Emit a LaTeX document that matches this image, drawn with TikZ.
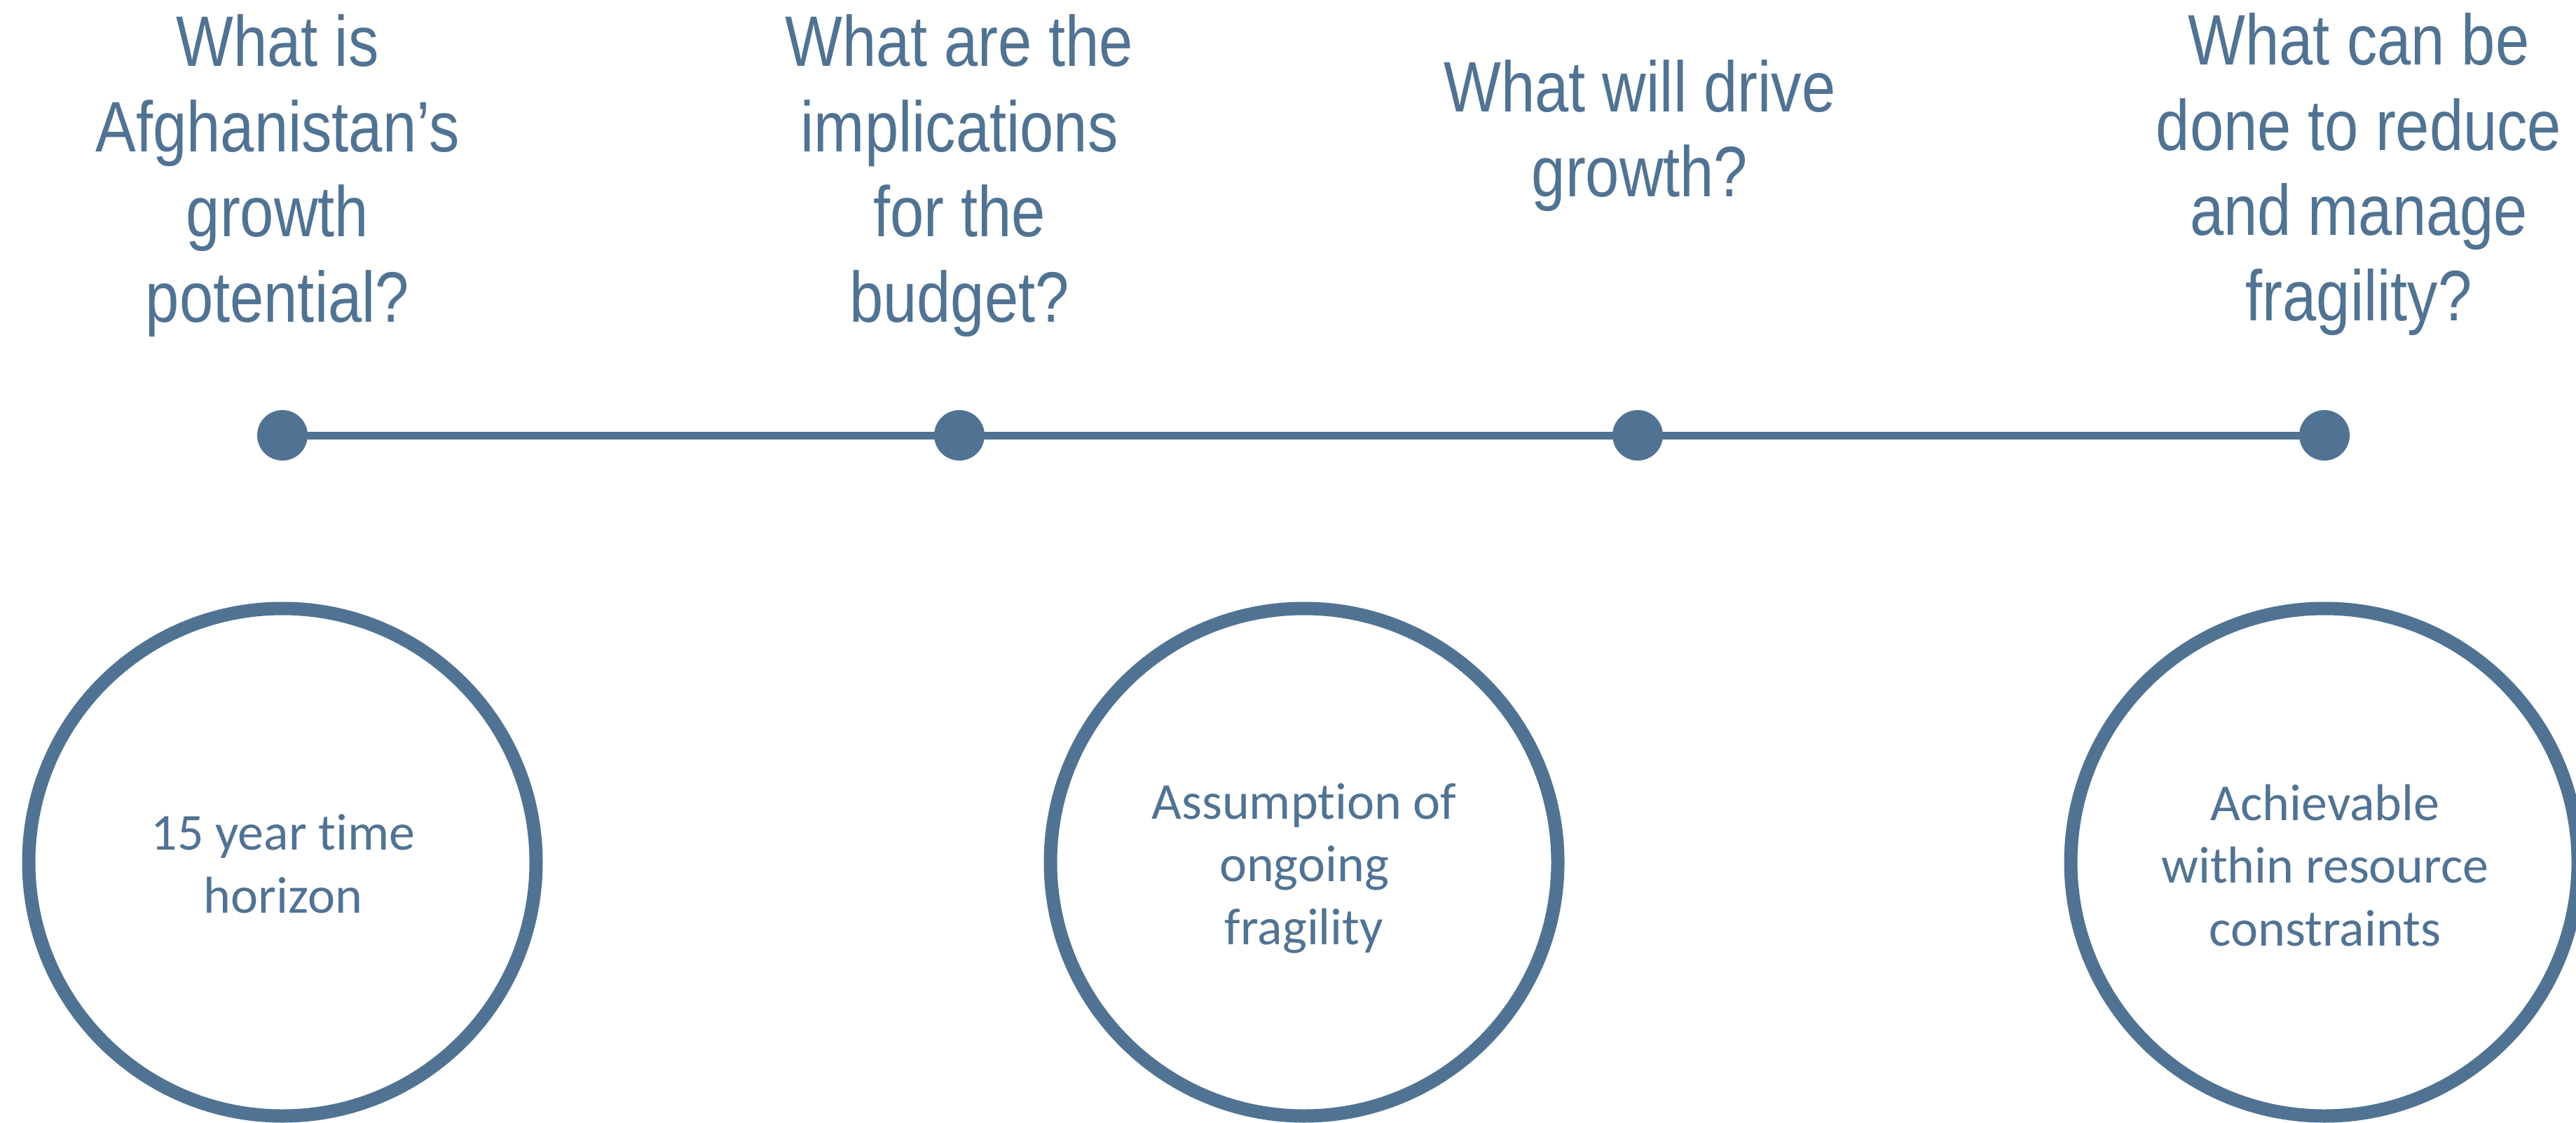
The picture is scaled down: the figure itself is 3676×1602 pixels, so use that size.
\documentclass[tikz,border=0pt]{standalone}
\usepackage{fontspec}
\newfontfamily\qfont[FakeStretch=0.85]{Liberation Sans}
\newfontfamily\cfont[Ligatures={NoCommon}]{Carlito}
\definecolor{sb}{RGB}{81,115,147}
\begin{document}
\begin{tikzpicture}[x=1pt,y=-1pt,
  question/.style={anchor=base,align=center,inner sep=0pt,text=sb,
    font=\qfont\fontsize{102}{121.5}\selectfont},
  dotnode/.style={circle,fill=sb,inner sep=0pt,minimum size=72pt},
  ring/.style={circle,draw=sb,line width=19pt,inner sep=0pt,minimum size=724pt},
  ringtext/.style={anchor=base,align=center,inner sep=0pt,text=sb,
    font=\cfont\fontsize{74}{89.5}\selectfont},
  timeline/.style={draw=sb,line width=11pt}]
\useasboundingbox (0,0) rectangle (3676,1602);
\clip (0,0) rectangle (3676,1602);
% questions (anchored at the baseline of their last line)
\node[question] (q1) at (396,459) {What is\\Afghanistan’s\\growth\\potential?};
\node[question] (q2) at (1369,459) {What are the\\implications\\for the\\budget?};
\node[question] (q3) at (2340,281) {What will drive\\growth?};
\node[question] (q4) at (3366,457) {What can be\\done to reduce\\and manage\\fragility?};
% timeline
\node[dotnode] (d1) at (403,621) {};
\node[dotnode] (d2) at (1369,621) {};
\node[dotnode] (d3) at (2337,621) {};
\node[dotnode] (d4) at (3317,621) {};
\draw[timeline] (d1.center) -- (d2.center) -- (d3.center) -- (d4.center);
% circles
\node[ring] (c1) at (403,1230) {};
\node[ring] (c2) at (1861,1230) {};
\node[ring] (c3) at (3317,1230) {};
\node[ringtext] (t1) at (404,1302) {15 year time\\horizon};
\node[ringtext] (t2) at (1861,1347) {Assumption of\\ongoing\\fragility};
\node[ringtext] (t3) at (3318,1349) {Achievable\\within resource\\constraints};
\end{tikzpicture}
\end{document}
